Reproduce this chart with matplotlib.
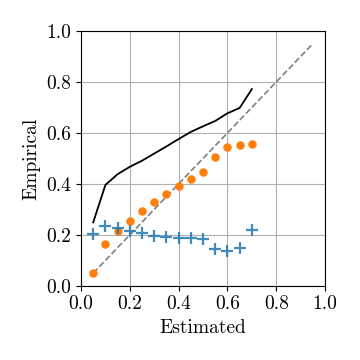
import matplotlib
matplotlib.use("Agg")
import matplotlib.pyplot as plt
import numpy as np

plt.rcParams['font.family'] = 'serif'
plt.rcParams['font.serif'] = ['cmr10']
plt.rcParams['mathtext.fontset'] = 'cm'
plt.rcParams['axes.formatter.use_mathtext'] = True

# binned probabilities
estimated = [0.05, 0.1, 0.15, 0.2, 0.25, 0.3, 0.35, 0.4, 0.45, 0.5, 0.55, 0.6, 0.65, 0.7]
empirical_line = [0.249, 0.396, 0.438, 0.467, 0.491, 0.519, 0.547, 0.576, 0.604, 0.626, 0.647, 0.677, 0.698, 0.772]
empirical_dots = [0.05, 0.165, 0.216, 0.255, 0.294, 0.329, 0.361, 0.391, 0.42, 0.447, 0.505, 0.545, 0.553, 0.557]
empirical_plus = [0.205, 0.233, 0.225, 0.215, 0.208, 0.197, 0.193, 0.187, 0.186, 0.183, 0.145, 0.136, 0.148, 0.22]
diag = [0.05, 0.95]
ticks = [0.0, 0.2, 0.4, 0.6, 0.8, 1.0]
tick_labels = ['0.0', '0.2', '0.4', '0.6', '0.8', '1.0']

fig = plt.figure(figsize=(3.6, 3.6), dpi=100)
ax = fig.add_axes([0.225, 0.206, 0.678, 0.708])

ax.plot(diag, diag, linestyle='--', color='gray', linewidth=1.2)
ax.plot(estimated, empirical_line, color='black', linewidth=1.3)
ax.scatter(estimated, empirical_dots, color='#ff7f0e', s=26, zorder=3)
ax.scatter(estimated, empirical_plus, color='#1f77b4', alpha=0.85, marker='+',
           s=75, linewidths=1.6, zorder=3)

ax.set_xlim(0, 1)
ax.set_ylim(0, 1)
ax.set_xticks(ticks)
ax.set_yticks(ticks)
ax.set_xticklabels(tick_labels, fontsize=14)
ax.set_yticklabels(tick_labels, fontsize=14)
ax.set_xlabel('Estimated', fontsize=14)
ax.set_ylabel('Empirical', fontsize=14)
ax.grid(True, color='#b0b0b0', linewidth=0.8)
ax.set_axisbelow(True)

fig.savefig('out.png', dpi=100)
